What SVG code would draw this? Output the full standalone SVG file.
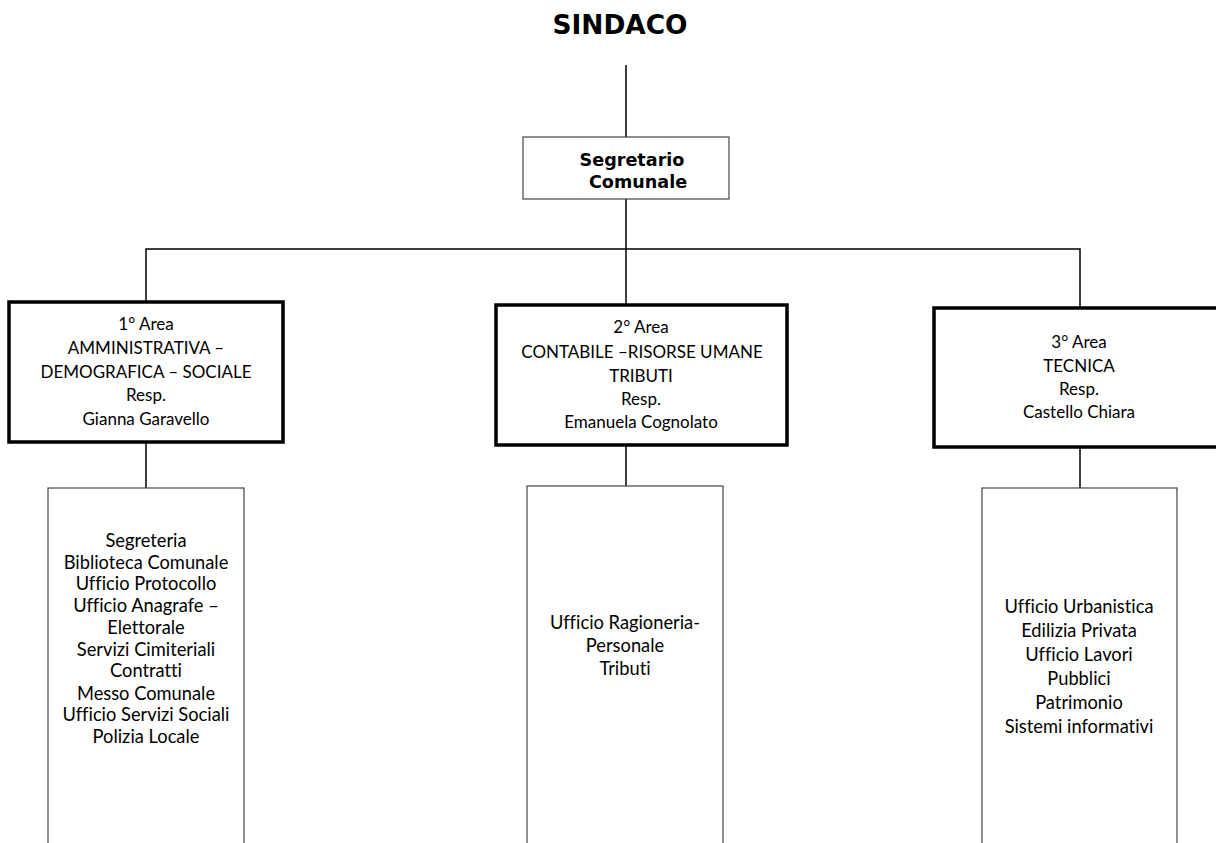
<svg xmlns="http://www.w3.org/2000/svg" width="1216" height="843" viewBox="0 0 1216 843">
<style>
.title{font-family:"DejaVu Sans",Verdana,sans-serif;font-weight:bold;fill:#000;text-anchor:middle}
.t{font-family:Lato,"Open Sans",sans-serif;font-size:17px;fill:#000;text-anchor:middle;font-variant-ligatures:none}
.s{font-size:18.3px}
.thick{fill:#fff;stroke:#000;stroke-width:3.5}
.thin{fill:#fff;stroke:#444;stroke-width:1.2}
.conn{fill:none;stroke:#000;stroke-width:1.5}
</style>
<rect width="1216" height="843" fill="#fff"/>
<g id="connectors">
<line class="conn" x1="626" y1="65" x2="626" y2="137"/>
<line class="conn" x1="626" y1="199" x2="626" y2="249"/>
<polyline class="conn" points="146,301 146,249 1080,249 1080,307"/>
<line class="conn" x1="626" y1="249" x2="626" y2="305"/>
<line class="conn" x1="146" y1="442" x2="146" y2="488"/>
<line class="conn" x1="626" y1="445" x2="626" y2="486"/>
<line class="conn" x1="1080" y1="441" x2="1080" y2="488"/>
</g>
<g id="sindaco">
<text class="title" x="620" y="34" font-size="26.4">SINDACO</text>
</g>
<g id="segretario">
<rect class="thin" x="523" y="137" width="206" height="62"/>
<text class="title" font-size="17.6" x="632" y="166">Segretario</text>
<text class="title" font-size="17.6" x="638" y="188">Comunale</text>
</g>
<g id="area1">
<rect class="thick" x="9" y="302" width="274" height="140"/>
<text class="t" x="146" y="330">1° Area</text>
<text class="t" x="146" y="354">AMMINISTRATIVA –</text>
<text class="t" x="146" y="378">DEMOGRAFICA – SOCIALE</text>
<text class="t" x="146" y="401">Resp.</text>
<text class="t" x="146" y="425">Gianna Garavello</text>
</g>
<g id="area2">
<rect class="thick" x="496" y="305" width="291" height="140"/>
<text class="t" x="641" y="333">2° Area</text>
<text class="t" x="642" y="358">CONTABILE –RISORSE UMANE</text>
<text class="t" x="641" y="382">TRIBUTI</text>
<text class="t" x="641" y="405">Resp.</text>
<text class="t" x="641" y="428">Emanuela Cognolato</text>
</g>
<g id="area3">
<rect class="thick" x="934" y="308" width="300" height="139"/>
<text class="t" x="1079" y="348">3° Area</text>
<text class="t" x="1079" y="372">TECNICA</text>
<text class="t" x="1079" y="395">Resp.</text>
<text class="t" x="1079" y="418">Castello Chiara</text>
</g>
<g id="uffici1">
<rect class="thin" x="48" y="488" width="196" height="370"/>
<text class="t s" x="146" y="547">Segreteria</text>
<text class="t s" x="146" y="569">Biblioteca Comunale</text>
<text class="t s" x="146" y="590">Ufficio Protocollo</text>
<text class="t s" x="146" y="612">Ufficio Anagrafe –</text>
<text class="t s" x="146" y="634">Elettorale</text>
<text class="t s" x="146" y="656">Servizi Cimiteriali</text>
<text class="t s" x="146" y="677">Contratti</text>
<text class="t s" x="146" y="700">Messo Comunale</text>
<text class="t s" x="146" y="721">Ufficio Servizi Sociali</text>
<text class="t s" x="146" y="743">Polizia Locale</text>
</g>
<g id="uffici2">
<rect class="thin" x="527" y="486" width="196" height="370"/>
<text class="t s" x="625" y="629">Ufficio Ragioneria-</text>
<text class="t s" x="625" y="652">Personale</text>
<text class="t s" x="625" y="675">Tributi</text>
</g>
<g id="uffici3">
<rect class="thin" x="982" y="488" width="195" height="370"/>
<text class="t s" x="1079" y="613">Ufficio Urbanistica</text>
<text class="t s" x="1079" y="637">Edilizia Privata</text>
<text class="t s" x="1079" y="661">Ufficio Lavori</text>
<text class="t s" x="1079" y="685">Pubblici</text>
<text class="t s" x="1079" y="709">Patrimonio</text>
<text class="t s" x="1079" y="733">Sistemi informativi</text>
</g>
</svg>
